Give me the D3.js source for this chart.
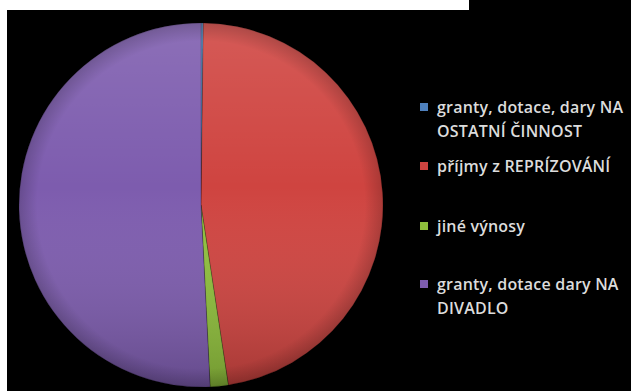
<!DOCTYPE html>
<html>
<head>
<meta charset="utf-8">
<script src="https://cdn.jsdelivr.net/npm/d3@7"></script>
<style>
  body { margin: 0; background: #fff; }
  svg { display: block; }
</style>
</head>
<body>
<div id="chart"></div>
<script>
const categories = [
    ['granty, dotace, dary NA', 'OSTATNÍ ČINNOST'],
    ['příjmy z REPRÍZOVÁNÍ'],
    ['jiné výnosy'],
    ['granty, dotace dary NA', 'DIVADLO']
];
const shares = [0.2, 47.4, 1.6, 50.8];
const colors = ['#4f81bd', '#cf4440', '#8fbf3c', '#7d5cae'];
const legendRows = [107, 166, 226, 284];

const width = 631, height = 391;
const cx = 201, cy = 205, r = 182;

const svg = d3.select('#chart').append('svg')
    .attr('width', width).attr('height', height);

// screenshot frame: white L strip, black body
svg.append('rect').attr('width', width).attr('height', height).attr('fill', '#fff');
svg.append('rect').attr('x', 7).attr('y', 10).attr('width', width - 7).attr('height', height - 10).attr('fill', '#000');
svg.append('rect').attr('x', 469).attr('y', 0).attr('width', width - 469).attr('height', 12).attr('fill', '#000');

const defs = svg.append('defs');
const shade = defs.append('linearGradient').attr('id', 'shade')
    .attr('x1', 0).attr('y1', 0).attr('x2', 0).attr('y2', 1);
shade.append('stop').attr('offset', '0%').attr('stop-color', '#fff').attr('stop-opacity', 0.12);
shade.append('stop').attr('offset', '45%').attr('stop-color', '#fff').attr('stop-opacity', 0);
shade.append('stop').attr('offset', '100%').attr('stop-color', '#000').attr('stop-opacity', 0.2);
const rim = defs.append('radialGradient').attr('id', 'rim');
rim.append('stop').attr('offset', '90%').attr('stop-color', '#000').attr('stop-opacity', 0);
rim.append('stop').attr('offset', '100%').attr('stop-color', '#000').attr('stop-opacity', 0.18);

const pie = d3.pie().sort(null).value((d) => d);
const arc = d3.arc().innerRadius(0).outerRadius(r);

const g = svg.append('g').attr('transform', `translate(${cx},${cy})`);
g.selectAll('path.slice').data(pie(shares)).enter().append('path')
    .attr('class', 'slice')
    .attr('d', arc)
    .attr('fill', (d, i) => colors[i])
    .attr('stroke', 'rgba(0,0,0,0.35)')
    .attr('stroke-width', 0.6);
g.append('circle').attr('r', r).attr('fill', 'url(#shade)');
g.append('circle').attr('r', r).attr('fill', 'url(#rim)');

// Legend
const legend = svg.append('g');
categories.forEach((lines, i) => {
    const y0 = legendRows[i];
    legend.append('rect')
        .attr('x', 420).attr('y', y0 - 4).attr('width', 8).attr('height', 8)
        .attr('fill', colors[i]);
    lines.forEach((t, j) => {
        legend.append('text')
            .attr('x', 437).attr('y', y0 + j * 24)
            .attr('dy', '0.35em')
            .attr('fill', '#dcdcdc')
            .style('font-family', '"Open Sans", sans-serif')
            .style('font-size', '16px')
            .style('font-weight', 600)
            .style('letter-spacing', '0.2px')
            .text(t);
    });
});
</script>
</body>
</html>
